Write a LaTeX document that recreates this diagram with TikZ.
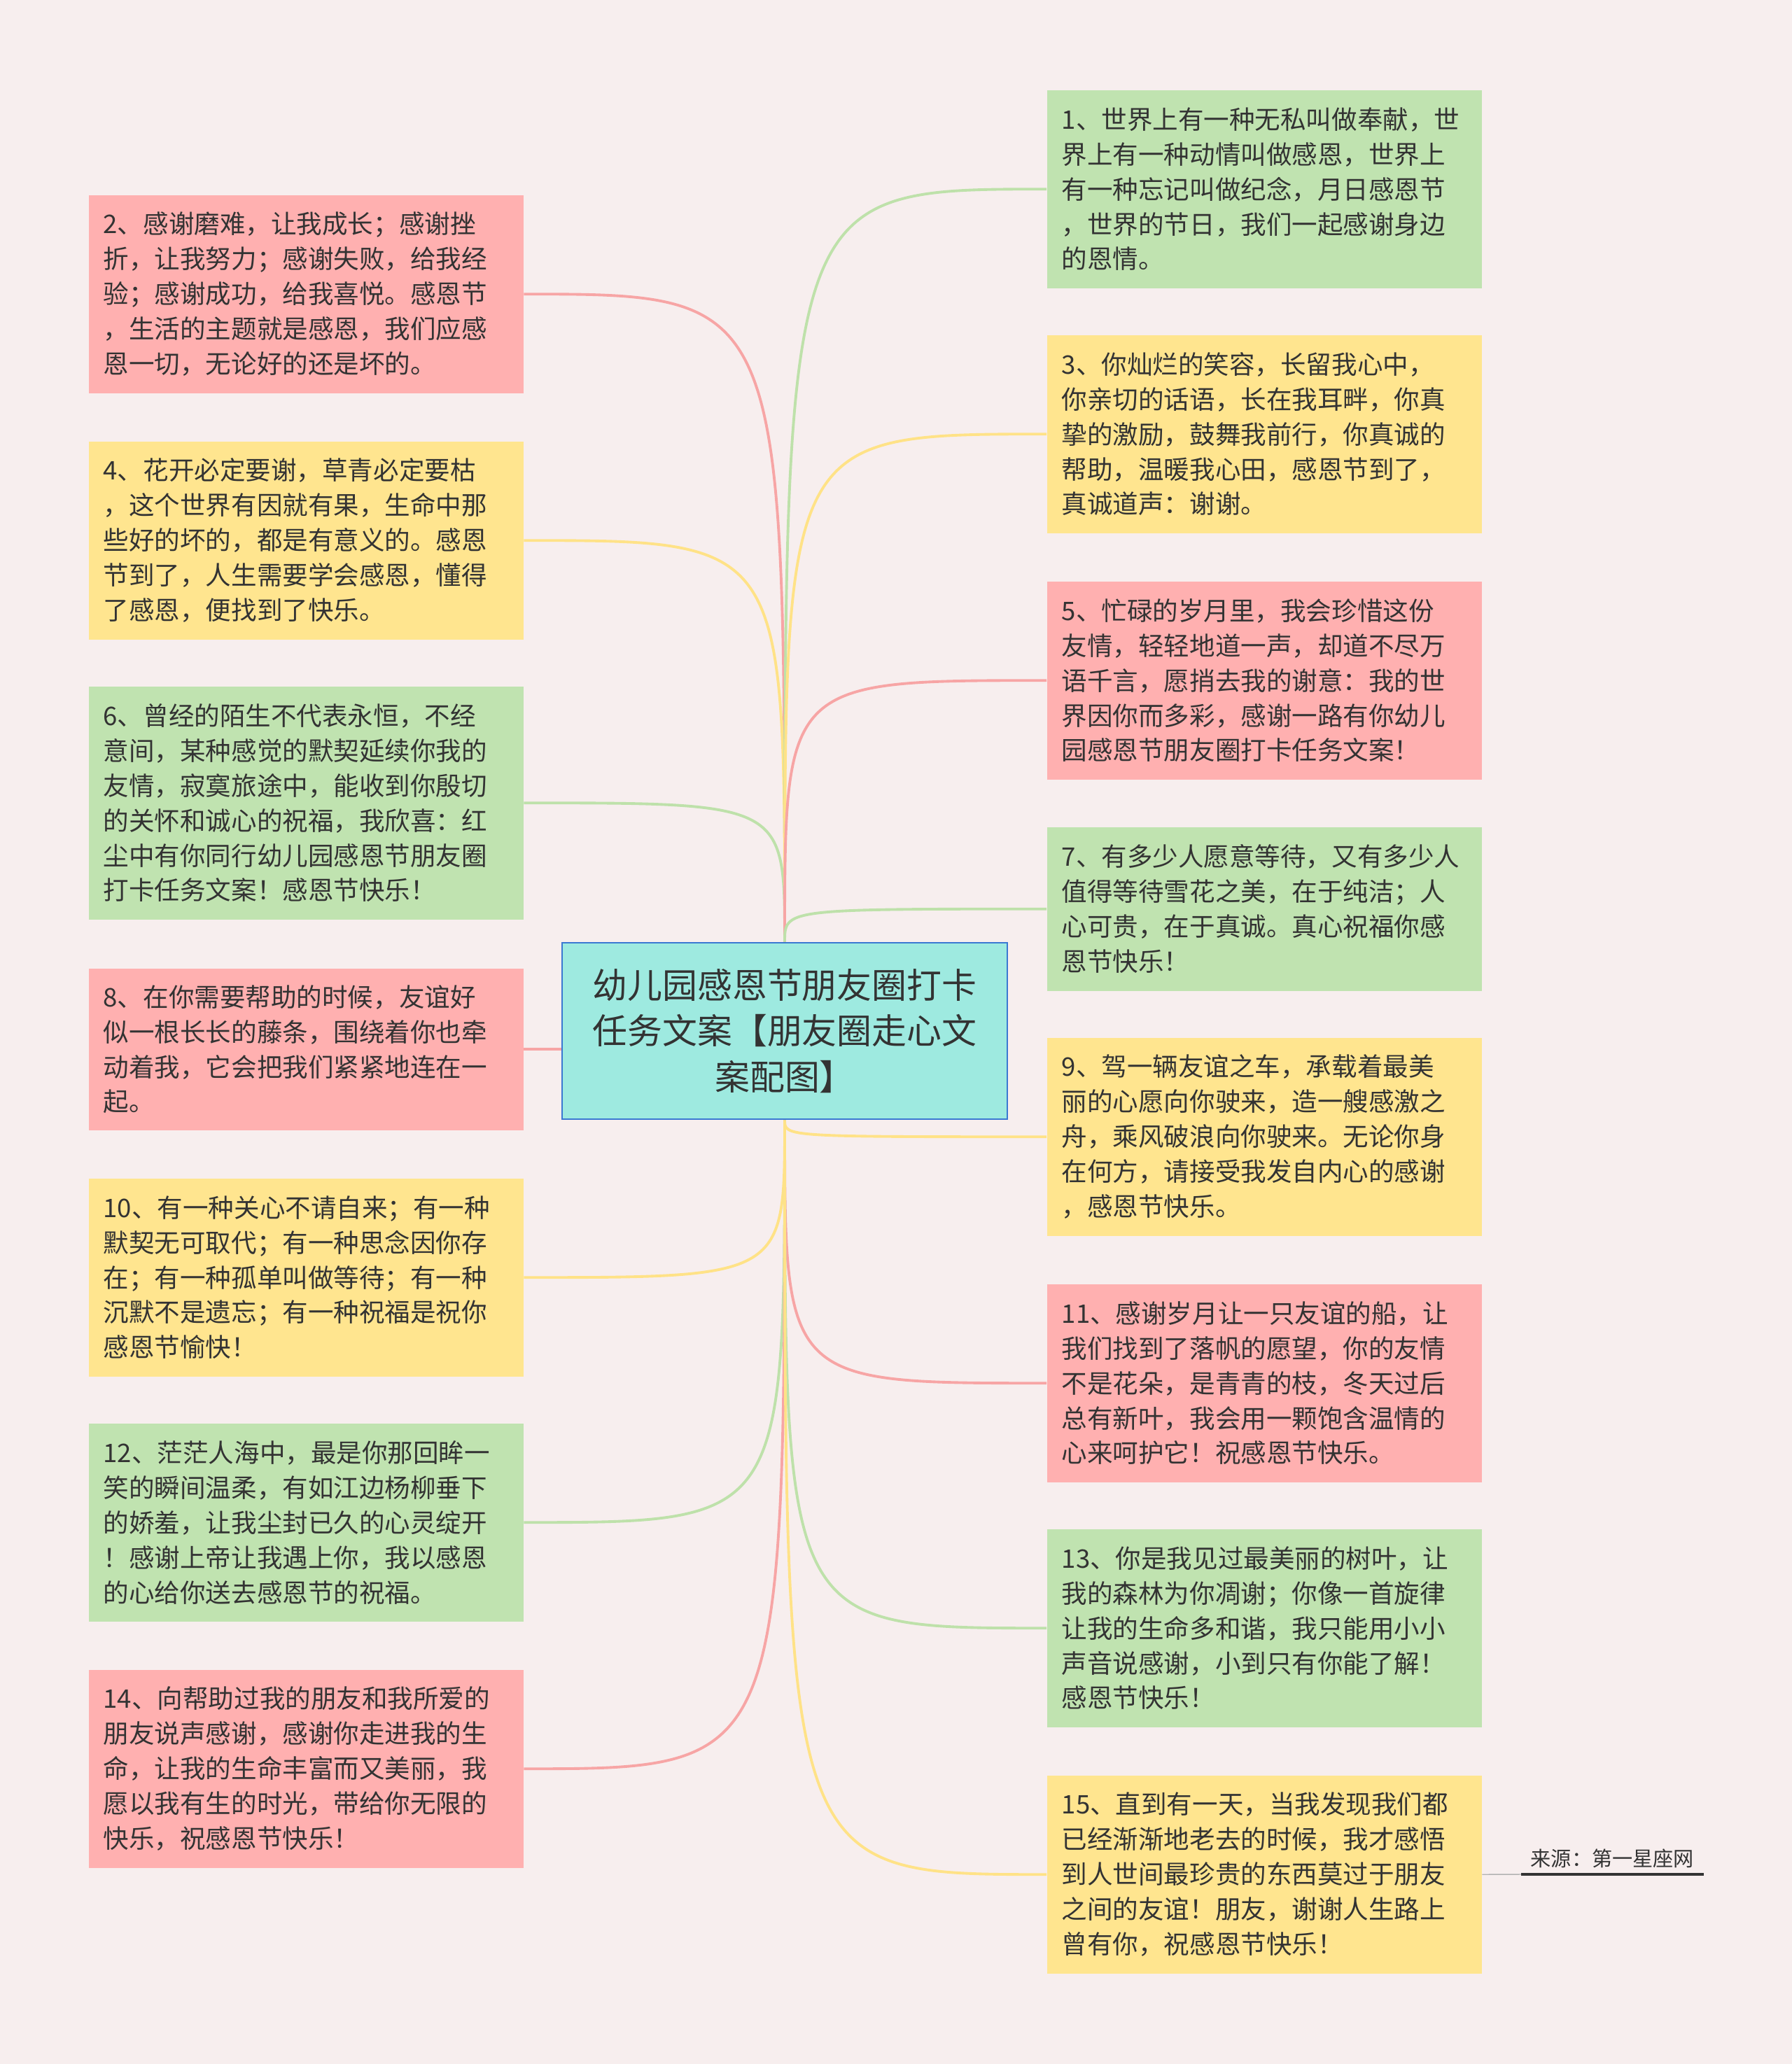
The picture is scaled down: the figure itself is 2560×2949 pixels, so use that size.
\documentclass[tikz,border=0pt]{standalone}
\usepackage{fontspec}
\newfontfamily\cjk{Noto Sans CJK SC}
\usetikzlibrary{positioning}

\definecolor{bg}{RGB}{247,238,238}
\definecolor{ink}{RGB}{51,51,51}
\definecolor{pinkfill}{RGB}{255,176,176}
\definecolor{yellowfill}{RGB}{255,229,143}
\definecolor{greenfill}{RGB}{192,227,176}
\definecolor{rootfill}{RGB}{158,234,224}
\definecolor{rootdraw}{RGB}{58,120,210}
\definecolor{pinkline}{RGB}{247,165,165}
\definecolor{yellowline}{RGB}{255,226,135}
\definecolor{greenline}{RGB}{190,225,170}

\begin{document}
\begin{tikzpicture}[
    x=0.1mm, y=-0.1mm,
    every node/.style={font=\cjk, text=ink},
    leaf/.style={rectangle, anchor=north west, text width=57.9mm, inner xsep=2.1mm, align=left, minimum height=28.3mm, font=\cjk\fontsize{10.4}{14.2}\selectfont},
    pinkbox/.style={leaf, fill=pinkfill},
    yellowbox/.style={leaf, fill=yellowfill},
    greenbox/.style={leaf, fill=greenfill},
    root/.style={rectangle, draw=rootdraw, fill=rootfill, line width=0.8pt, minimum width=63.6mm, minimum height=25.2mm, text width=56mm, align=center, font=\cjk\fontsize{14.2}{18.7}\selectfont},
    src/.style={anchor=south west, inner xsep=1.3mm, inner ysep=0.8mm, font=\cjk\fontsize{8.3}{10}\selectfont},
    link/.style={line width=1.1pt}
]

% Background and page size
\fill[bg] (0,0) rectangle (2560,2949);

% Centre topic
\node[root] (root) at (1121,1473) {幼儿园感恩节朋友圈打卡\\任务文案【朋友圈走心文\\案配图】};

% Left column
\node[pinkbox] (b2) at (126,278) {2、感谢磨难，让我成长；感谢挫\\折，让我努力；感谢失败，给我经\\验；感谢成功，给我喜悦。感恩节\\，生活的主题就是感恩，我们应感\\恩一切，无论好的还是坏的。};
\node[yellowbox] (b4) at (126,630) {4、花开必定要谢，草青必定要枯\\，这个世界有因就有果，生命中那\\些好的坏的，都是有意义的。感恩\\节到了，人生需要学会感恩，懂得\\了感恩，便找到了快乐。};
\node[greenbox, minimum height=33.3mm] (b6) at (126,980) {6、曾经的陌生不代表永恒，不经\\意间，某种感觉的默契延续你我的\\友情，寂寞旅途中，能收到你殷切\\的关怀和诚心的祝福，我欣喜：红\\尘中有你同行幼儿园感恩节朋友圈\\打卡任务文案！感恩节快乐！};
\node[pinkbox, minimum height=23.1mm] (b8) at (126,1383) {8、在你需要帮助的时候，友谊好\\似一根长长的藤条，围绕着你也牵\\动着我，它会把我们紧紧地连在一\\起。};
\node[yellowbox] (b10) at (126,1683) {10、有一种关心不请自来；有一种\\默契无可取代；有一种思念因你存\\在；有一种孤单叫做等待；有一种\\沉默不是遗忘；有一种祝福是祝你\\感恩节愉快！};
\node[greenbox] (b12) at (126,2033) {12、茫茫人海中，最是你那回眸一\\笑的瞬间温柔，有如江边杨柳垂下\\的娇羞，让我尘封已久的心灵绽开\\！感谢上帝让我遇上你，我以感恩\\的心给你送去感恩节的祝福。};
\node[pinkbox] (b14) at (126,2385) {14、向帮助过我的朋友和我所爱的\\朋友说声感谢，感谢你走进我的生\\命，让我的生命丰富而又美丽，我\\愿以我有生的时光，带给你无限的\\快乐，祝感恩节快乐！};

% Right column
\node[greenbox] (b1) at (1495,128) {1、世界上有一种无私叫做奉献，世\\界上有一种动情叫做感恩，世界上\\有一种忘记叫做纪念，月日感恩节\\，世界的节日，我们一起感谢身边\\的恩情。};
\node[yellowbox] (b3) at (1495,478) {3、你灿烂的笑容，长留我心中，\\你亲切的话语，长在我耳畔，你真\\挚的激励，鼓舞我前行，你真诚的\\帮助，温暖我心田，感恩节到了，\\真诚道声：谢谢。};
\node[pinkbox] (b5) at (1495,830) {5、忙碌的岁月里，我会珍惜这份\\友情，轻轻地道一声，却道不尽万\\语千言，愿捎去我的谢意：我的世\\界因你而多彩，感谢一路有你幼儿\\园感恩节朋友圈打卡任务文案！};
\node[greenbox, minimum height=23.4mm] (b7) at (1495,1181) {7、有多少人愿意等待，又有多少人\\值得等待雪花之美，在于纯洁；人\\心可贵，在于真诚。真心祝福你感\\恩节快乐！};
\node[yellowbox] (b9) at (1495,1482) {9、驾一辆友谊之车，承载着最美\\丽的心愿向你驶来，造一艘感激之\\舟，乘风破浪向你驶来。无论你身\\在何方，请接受我发自内心的感谢\\，感恩节快乐。};
\node[pinkbox] (b11) at (1495,1834) {11、感谢岁月让一只友谊的船，让\\我们找到了落帆的愿望，你的友情\\不是花朵，是青青的枝，冬天过后\\总有新叶，我会用一颗饱含温情的\\心来呵护它！祝感恩节快乐。};
\node[greenbox] (b13) at (1495,2184) {13、你是我见过最美丽的树叶，让\\我的森林为你凋谢；你像一首旋律\\让我的生命多和谐，我只能用小小\\声音说感谢，小到只有你能了解！\\感恩节快乐！};
\node[yellowbox] (b15) at (1495,2536) {15、直到有一天，当我发现我们都\\已经渐渐地老去的时候，我才感悟\\到人世间最珍贵的东西莫过于朋友\\之间的友谊！朋友，谢谢人生路上\\曾有你，祝感恩节快乐！};

% Source note
\node[src] (source) at (2173,2678) {来源：第一星座网};

% Links, left
\draw[link, draw=pinkline] (root.north) .. controls (root.north |- b2.east) .. (b2.east);
\draw[link, draw=yellowline] (root.north) .. controls (root.north |- b4.east) .. (b4.east);
\draw[link, draw=greenline] (root.north) .. controls (root.north |- b6.east) .. (b6.east);
\draw[link, draw=pinkline] (b8.east) -- (b8.east -| root.west);
\draw[link, draw=yellowline] (root.south) .. controls (root.south |- b10.east) .. (b10.east);
\draw[link, draw=greenline] (root.south) .. controls (root.south |- b12.east) .. (b12.east);
\draw[link, draw=pinkline] (root.south) .. controls (root.south |- b14.east) .. (b14.east);

% Links, right
\draw[link, draw=greenline] (root.north) .. controls (root.north |- b1.west) .. (b1.west);
\draw[link, draw=yellowline] (root.north) .. controls (root.north |- b3.west) .. (b3.west);
\draw[link, draw=pinkline] (root.north) .. controls (root.north |- b5.west) .. (b5.west);
\draw[link, draw=greenline] (root.north) .. controls (root.north |- b7.west) .. (b7.west);
\draw[link, draw=yellowline] (root.south) .. controls (root.south |- b9.west) .. (b9.west);
\draw[link, draw=pinkline] (root.south) .. controls (root.south |- b11.west) .. (b11.west);
\draw[link, draw=greenline] (root.south) .. controls (root.south |- b13.west) .. (b13.west);
\draw[link, draw=yellowline] (root.south) .. controls (root.south |- b15.west) .. (b15.west);

% Source underline
\draw[line width=0.4pt, draw=gray!60] (b15.east) -- (source.south west);
\draw[line width=1pt, draw=ink] (source.south west) -- (source.south east);

\end{tikzpicture}
\end{document}
